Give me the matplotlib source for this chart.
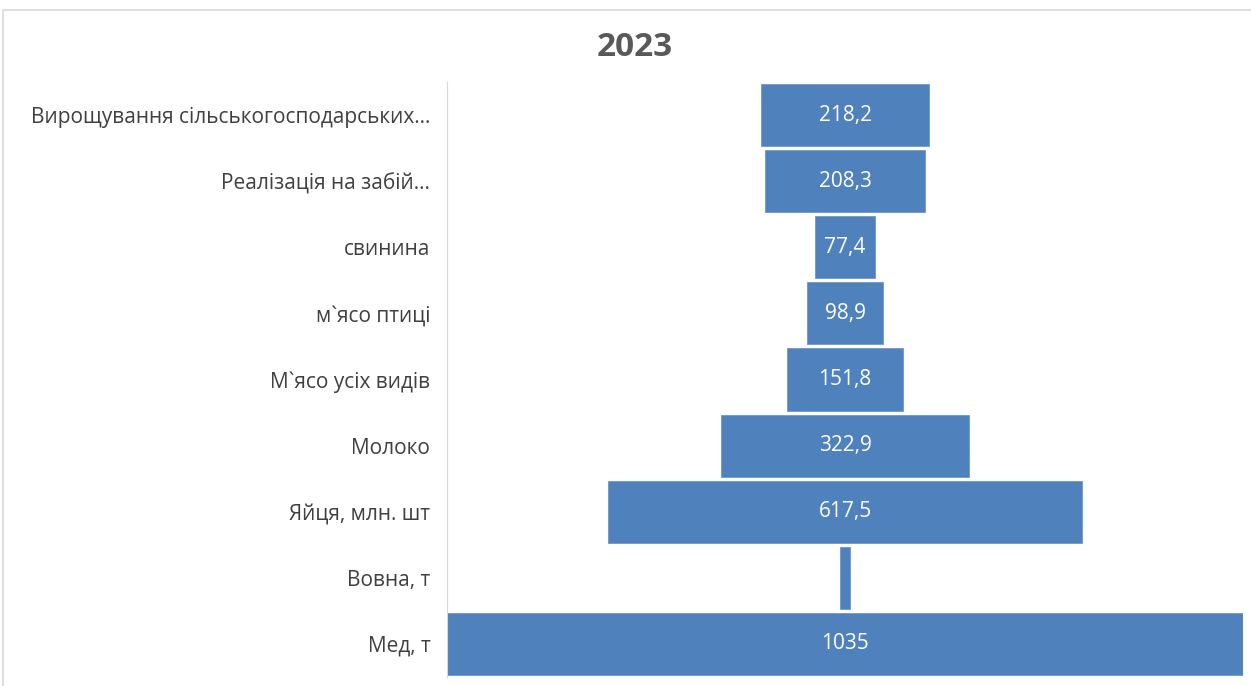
import matplotlib
matplotlib.use("Agg")
import matplotlib.pyplot as plt
from matplotlib.patches import Rectangle

plt.rcParams["font.family"] = ["Open Sans", "DejaVu Sans"]

categories = [
    "Вирощування сільськогосподарських…",
    "Реалізація на забій…",
    "свинина",
    "м`ясо птиці",
    "М`ясо усіх видів",
    "Молоко",
    "Яйця, млн. шт",
    "Вовна, т",
    "Мед, т",
]
values = [218.2, 208.3, 77.4, 98.9, 151.8, 322.9, 617.5, 14.0, 1035]
labels = ["218,2", "208,3", "77,4", "98,9", "151,8", "322,9", "617,5", "", "1035"]

BAR = "#4F81BD"
W, H = 1251, 686

fig = plt.figure(figsize=(W / 100, H / 100), dpi=100)
fig.patches.append(Rectangle((3 / W, -0.1), 1.2, (H - 10) / H + 0.1,
                             transform=fig.transFigure, fill=False,
                             edgecolor="#d9d9d9", linewidth=1.2))

ax = fig.add_axes([447 / W, 1 - 677 / H, (1243 - 447) / W, (677 - 82) / H])
y = list(range(len(categories)))
left = [-v / 2 for v in values]
ax.barh(y, values, left=left, height=0.94, color=BAR, edgecolor="#6f97c9", linewidth=0.6)

for yi, v, lab in zip(y, values, labels):
    if lab:
        ax.text(0, yi, lab, ha="center", va="center", color="white", fontsize=15)

ax.set_xlim(-values[-1] / 2, values[-1] / 2)
ax.set_ylim(len(categories) - 0.5, -0.5)
ax.set_yticks(y)
ax.set_yticklabels(categories, fontsize=15, color="#404040")
ax.tick_params(axis="y", length=0, pad=12)
ax.set_xticks([])
for s in ["top", "right", "bottom"]:
    ax.spines[s].set_visible(False)
ax.spines["left"].set_color("#d9d9d9")

fig.text(635 / W, 1 - 48 / H, "2023", ha="center", va="center", fontsize=24,
         fontweight="bold", color="#595959",
         family=["Liberation Sans Narrow", "Open Sans", "DejaVu Sans"])

fig.savefig("out.png", dpi=100)
